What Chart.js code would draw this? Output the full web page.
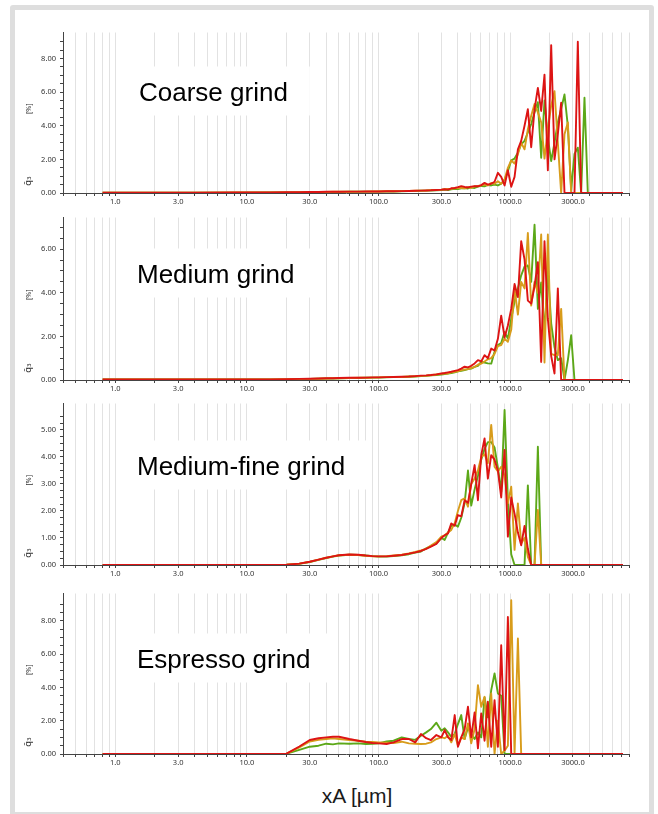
<!DOCTYPE html>
<html lang="en">
<head>
<meta charset="UTF-8">
<title>Grind size distributions</title>
<script src="https://cdn.jsdelivr.net/npm/chart.js"></script>
<style>
  body { margin: 0; background: #fff; width: 658px; height: 814px; overflow: hidden; position: relative; }
  #frame { position: absolute; left: 10px; top: 5px; width: 634px; height: 802px; border: 5px solid #dedede; border-radius: 3px; }
  canvas { position: absolute; left: 15px; }
  #xtitle { position: absolute; left: 257px; width: 200px; top: 785px; text-align: center;
            font: 21px "Liberation Sans", Arial, sans-serif; line-height: 21px; color: #1a1a1a; }
</style>
</head>
<body>
<div id="frame"></div>
<canvas id="c1" width="630" height="185" style="top:24px"></canvas>
<canvas id="c2" width="630" height="187" style="top:209px"></canvas>
<canvas id="c3" width="630" height="186" style="top:395px"></canvas>
<canvas id="c4" width="630" height="185" style="top:585px"></canvas>
<div id="xtitle">xA [µm]</div>
<script>
// particle size classes [µm]
const sizes = [0.8, 1, 2, 4, 8, 15, 20, 25, 30, 35, 40, 45, 50, 60, 70, 80, 90, 100, 115, 130, 150, 170, 190, 210, 230, 250, 275,
  300, 318, 337, 357, 379, 401, 425, 451, 478, 506, 537, 569, 603, 639, 677, 718, 761, 807, 855, 907,
  961, 1019, 1080, 1145, 1213, 1286, 1363, 1445, 1532, 1624, 1721, 1824, 1934, 2050, 2173, 2303, 2441, 2588, 2743, 2908,
  3082, 3267, 3463, 3671, 3891, 4125, 4372, 4634, 4913, 5207, 5520, 6000, 7200];

const gridValues = [0.4, 0.5, 0.6, 0.7, 0.8, 0.9, 1, 2, 3, 4, 5, 6, 7, 8, 9, 10, 20, 30, 40, 50, 60, 70, 80, 90,
  100, 200, 300, 400, 500, 600, 700, 800, 900, 1000, 2000, 3000, 4000, 5000, 6000, 7000, 8000];
const labelValues = [1, 3, 10, 30, 100, 300, 1000, 3000];

// q3 [%]
const coarseRed = [0.02,0.02,0.02,0.02,0.03,0.04,0.05,0.05,0.06,0.06,0.07,0.07,0.07,0.08,0.08,0.09,0.09,0.09,0.1,0.1,0.11,0.12,0.13,0.14,0.15,0.16,0.18,
  0.2,0.22,0.2,0.28,0.3,0.35,0.41,0.36,0.33,0.38, 0.41,0.4,0.47,0.6,0.5,0.55,0.67,1.2,0.96,0.45,
  1.35,0.37,0.96,2.6,3.1,4.0,4.98,2.72,4.98,6.25, 4.88,7.04,1.35,8.8,2.0,3.5,5.37,0,0,0,
  0,9.0,0,0,0,0,0,0,0,0, 0,0,0];
const coarseGreen = [0.02,0.02,0.02,0.02,0.02,0.03,0.04,0.04,0.05,0.05,0.06,0.06,0.06,0.07,0.07,0.08,0.08,0.08,0.09,0.09,0.1,0.11,0.12,0.13,0.14,0.15,0.16,
  0.18,0.2,0.18,0.22,0.25,0.24,0.28,0.3,0.27,0.33, 0.3,0.38,0.42,0.4,0.48,0.45,0.5,0.45,0.55,0.8,
  1.3,1.94,2.05,2.4,2.9,3.1,3.6,4.1,4.8,5.4, 2.1,5.5,3.3,1.9,3.0,4.2,5.0,5.86,4.0,0.2,
  2.33,2.7,0,5.67,0,0,0,0,0,0, 0,0,0];
const coarseOrange = [0.02,0.02,0.02,0.02,0.03,0.03,0.04,0.05,0.05,0.06,0.06,0.07,0.07,0.07,0.08,0.08,0.09,0.09,0.1,0.1,0.11,0.12,0.13,0.14,0.15,0.17,0.18,
  0.2,0.22,0.24,0.25,0.28,0.3,0.3,0.28,0.35,0.3, 0.4,0.42,0.45,0.5,0.45,0.6,0.55,0.7,0.55,0.8,
  1.5,1.94,1.75,2.3,3.0,2.6,3.8,4.6,5.3,4.8, 4.2,2.05,3.8,5.2,6.06,3.0,0,3.5,4.2,0,
  0,0,0,0,0,0,0,0,0,0, 0,0,0];

const mediumRed = [0.02,0.02,0.02,0.02,0.02,0.03,0.04,0.05,0.06,0.07,0.08,0.08,0.09,0.1,0.1,0.11,0.12,0.12,0.13,0.14,0.15,0.16,0.18,0.2,0.21,0.23,0.26,
  0.3,0.32,0.35,0.38,0.42,0.45,0.52,0.61,0.58,0.65, 0.76,0.91,0.85,1.14,1.0,1.44,1.35,1.89,2.95,1.95,
  2.5,3.26,4.4,3.8,6.36,5.53,3.64,3.5,4.3,5.4, 0.83,6.36,2.8,1.1,0.3,4.2,0,0,0,0,
  0,0,0,0,0,0,0,0,0,0, 0,0,0];
const mediumGreen = [0.02,0.02,0.02,0.02,0.02,0.03,0.03,0.04,0.05,0.06,0.07,0.07,0.08,0.09,0.09,0.1,0.11,0.11,0.12,0.13,0.14,0.15,0.16,0.18,0.19,0.21,0.23,
  0.25,0.27,0.3,0.32,0.35,0.4,0.42,0.45,0.5,0.52, 0.6,0.65,0.83,0.8,0.76,0.75,1.29,1.6,1.7,2.2,
  1.9,2.8,3.6,4.2,4.8,5.2,5.25,4.5,7.12,3.26, 4.47,2.2,5.0,2.6,1.5,0.91,1.0,0,0.9,2.05,
  0,0,0,0,0,0,0,0,0,0, 0,0,0];
const mediumOrange = [0.02,0.02,0.02,0.02,0.02,0.03,0.04,0.05,0.05,0.06,0.07,0.08,0.08,0.09,0.1,0.1,0.11,0.12,0.13,0.13,0.14,0.16,0.17,0.19,0.2,0.22,0.25,
  0.28,0.3,0.3,0.35,0.38,0.4,0.45,0.48,0.5,0.55, 0.6,0.7,0.75,0.85,0.95,1.0,1.2,1.55,1.6,1.9,
  1.75,2.3,4.18,3.0,4.5,4.2,6.74,3.41,4.5,4.0, 6.67,0.8,6.67,1.2,1.14,1.14,3.26,0,0,0,
  0,0,0,0,0,0,0,0,0,0, 0,0,0];

const fineRed = [0,0,0,0,0,0,0.01,0.05,0.12,0.2,0.27,0.32,0.36,0.39,0.38,0.35,0.33,0.32,0.32,0.34,0.37,0.42,0.47,0.52,0.6,0.68,0.78,
  1.0,1.1,1.17,1.54,1.45,1.85,1.8,2.4,2.3,3.0, 3.7,2.4,4.07,4.69,3.2,4.07,3.9,3.5,2.5,4.26,
  1.05,2.5,1.9,1.2,0.73,1.45,0.6,0,0,0, 0,0,0,0,0,0,0,0,0,0,
  0,0,0,0,0,0,0,0,0,0, 0,0,0];
const fineGreen = [0,0,0,0,0,0,0.01,0.04,0.11,0.19,0.26,0.31,0.35,0.38,0.37,0.35,0.33,0.31,0.31,0.33,0.36,0.4,0.46,0.5,0.62,0.7,0.8,
  1.0,0.93,1.2,1.45,1.5,1.42,1.75,2.3,3.5,2.2, 2.8,3.3,3.9,4.3,4.55,4.55,4.35,3.6,2.7,5.74,
  2.4,0.4,0,0,0,0,2.95,0,0,4.38, 0,0,0,0,0,0,0,0,0,0,
  0,0,0,0,0,0,0,0,0,0, 0,0,0];
const fineOrange = [0,0,0,0,0,0,0.01,0.05,0.12,0.2,0.27,0.32,0.36,0.38,0.37,0.34,0.32,0.32,0.33,0.35,0.38,0.43,0.48,0.54,0.6,0.72,0.85,
  1.05,1.1,1.2,1.3,1.55,2.0,2.4,2.47,2.16,3.0, 3.2,3.5,4.0,4.1,3.77,5.19,3.64,3.46,3.64,3.3,
  2.28,2.9,0.56,2.28,0.8,1.0,0.3,0,0,2.04, 0,0,0,0,0,0,0,0,0,0,
  0,0,0,0,0,0,0,0,0,0, 0,0,0];

const espressoRed = [0,0,0,0,0,0,0.02,0.45,0.84,0.95,1.0,1.04,1.04,0.9,0.8,0.72,0.66,0.64,0.6,0.7,0.9,0.9,0.7,1.2,0.95,0.84,1.14,
  1.0,1.44,1.0,0.84,2.34,0.44,1.0,1.5,2.84,1.0, 2.5,0.34,2.44,0.8,3.14,0.44,3.24,0.44,6.54,0.24,
  8.24,0,0,0,0,0,0,0,0,0, 0,0,0,0,0,0,0,0,0,0,
  0,0,0,0,0,0,0,0,0,0, 0,0,0];
const espressoGreen = [0,0,0,0,0,0,0.02,0.25,0.44,0.5,0.62,0.58,0.64,0.62,0.64,0.6,0.62,0.64,0.75,0.8,1.0,0.9,0.85,1.1,1.3,1.5,1.88,
  1.4,1.55,1.3,1.04,1.2,1.8,2.34,0.9,1.6,1.2, 0.9,1.3,1.0,3.4,2.2,3.84,4.84,3.64,3.5,0,
  0,0,0,0,0,0,0,0,0,0, 0,0,0,0,0,0,0,0,0,0,
  0,0,0,0,0,0,0,0,0,0, 0,0,0];
const espressoOrange = [0,0,0,0,0,0,0.02,0.4,0.75,0.85,0.9,0.94,0.9,0.84,0.8,0.74,0.72,0.7,0.68,0.66,0.74,0.64,0.62,0.6,0.62,0.7,0.9,
  1.0,0.95,1.1,0.7,1.2,0.5,1.0,0.9,1.84,0.64, 1.5,4.14,2.84,3.44,0.44,3.64,0,2.0,0,0.2,
  0.5,9.24,0,6.94,0,0,0,0,0,0, 0,0,0,0,0,0,0,0,0,0,
  0,0,0,0,0,0,0,0,0,0, 0,0,0];

const titles = ['Coarse grind', 'Medium grind', 'Medium-fine grind', 'Espresso grind'];
const yMax = [9.55, 7.45, 5.98, 9.65];
const yMinorStep = [0.5, 0.5, 0.25, 0.5];
const yLabelStep = [2, 2, 1, 2];

const series = [
  [coarseRed, coarseOrange, coarseGreen],
  [mediumRed, mediumOrange, mediumGreen],
  [fineRed, fineOrange, fineGreen],
  [espressoRed, espressoOrange, espressoGreen]
];
const colors = ['#dd1414', '#d89c1b', '#5ca818'];   // red drawn on top

// layout
const titleX = [124, 122, 122, 122];
const titleBaseline = [68, 65, 71, 74];

Chart.defaults.font.family = '"Noto Sans", "DejaVu Sans", sans-serif';
Chart.defaults.font.size = 7.5;
Chart.defaults.color = '#333';

function isMultiple(v, step) {
  const r = v / step;
  return Math.abs(r - Math.round(r)) < 1e-6;
}

const panelDecor = {
  id: 'panelDecor',
  beforeDatasetsDraw(chart, args, opts) {
    const { ctx, chartArea } = chart;
    ctx.save();
    ctx.font = '26px "Liberation Sans", Arial, sans-serif';
    const w = ctx.measureText(opts.text).width;
    const x = opts.x, y = chartArea.top + opts.baseline;
    ctx.fillStyle = '#fff';
    ctx.fillRect(x - 20, y - 34, w + 42, 49);
    ctx.fillStyle = '#000';
    ctx.fillText(opts.text, x, y);
    ctx.restore();
  },
  afterDraw(chart) {
    const { ctx, chartArea } = chart;
    const x = chartArea.left - 34;
    ctx.save();
    ctx.fillStyle = '#333';
    ctx.textAlign = 'center';
    ctx.textBaseline = 'middle';
    ctx.translate(x, (chartArea.top + chartArea.bottom) / 2 - 4);
    ctx.rotate(-Math.PI / 2);
    ctx.font = '7px "Noto Sans", sans-serif';
    ctx.fillText('[%]', 0, 0);
    ctx.restore();
    ctx.save();
    ctx.fillStyle = '#333';
    ctx.textAlign = 'center';
    ctx.textBaseline = 'middle';
    ctx.translate(x, chartArea.bottom - 12);
    ctx.rotate(-Math.PI / 2);
    ctx.font = '9px "DejaVu Sans", sans-serif';
    ctx.fillText('q\u0304\u2083', 0, 0);
    ctx.restore();
  }
};

['c1', 'c2', 'c3', 'c4'].forEach((id, i) => {
  const minor = yMinorStep[i], major = yLabelStep[i];
  new Chart(document.getElementById(id), {
    type: 'line',
    data: {
      datasets: series[i].map((arr, k) => ({
        data: sizes.map((x, j) => ({ x: x, y: arr[j] })),
        borderColor: colors[k],
        borderWidth: 1.9,
        borderJoinStyle: 'round',
        pointRadius: 0,
        tension: 0,
        fill: false
      }))
    },
    options: {
      responsive: false,
      animation: false,
      events: [],
      layout: { padding: { top: 8, right: 16, left: 0, bottom: 0 } },
      plugins: {
        legend: { display: false },
        tooltip: { enabled: false },
        panelDecor: { text: titles[i], x: titleX[i], baseline: titleBaseline[i] }
      },
      scales: {
        x: {
          type: 'logarithmic',
          min: 0.4,
          max: 8000,
          afterBuildTicks: s => { s.ticks = gridValues.map(v => ({ value: v })); },
          afterFit: s => { s.height = 16; },
          ticks: {
            autoSkip: false, maxRotation: 0, minRotation: 0, padding: 1,
            callback: v => labelValues.includes(v) ? v.toFixed(1) : ''
          },
          grid: { color: '#e2e2e2', lineWidth: 1, tickLength: 3, tickColor: '#444' },
          border: { color: '#444', width: 1 }
        },
        y: {
          min: 0,
          max: yMax[i],
          afterFit: s => { s.width = 48; },
          afterBuildTicks: s => { s.ticks = s.ticks.filter(t => isMultiple(t.value, minor)); },
          ticks: {
            stepSize: minor, autoSkip: false, padding: 4,
            callback: v => isMultiple(v, major) ? v.toFixed(2) : ''
          },
          grid: { drawOnChartArea: false, tickLength: 3, tickColor: '#444' },
          border: { color: '#444', width: 1 }
        }
      }
    },
    plugins: [panelDecor]
  });
});
</script>
</body>
</html>
